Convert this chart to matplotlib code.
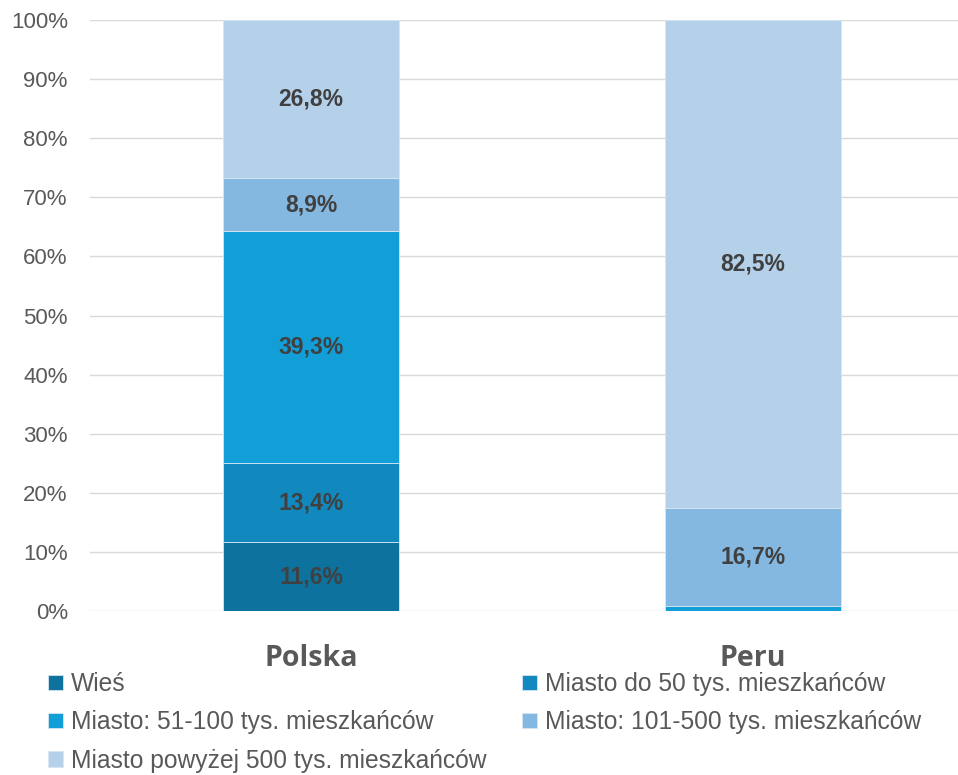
import matplotlib
matplotlib.use("Agg")
import matplotlib.pyplot as plt
from matplotlib.ticker import PercentFormatter
import numpy as np

countries = ["Polska", "Peru"]
series_names = [
    "Wieś",
    "Miasto do 50 tys. mieszkańców",
    "Miasto: 51-100 tys. mieszkańców",
    "Miasto: 101-500 tys. mieszkańców",
    "Miasto powyżej 500 tys. mieszkańców",
]
wies = [11.6, 0.0]
do_50 = [13.4, 0.0]
od_51_100 = [39.3, 0.8]
od_101_500 = [8.9, 16.7]
pow_500 = [26.8, 82.5]
series_values = [wies, do_50, od_51_100, od_101_500, pow_500]
colors = ["#0E729F", "#1189BE", "#129ED7", "#84B8E0", "#B5D1EA"]

fig = plt.figure(figsize=(9.58, 7.75), dpi=100)
ax = fig.add_axes([90 / 958, 164 / 775, 1 - 90 / 958, (611 - 20) / 775])

x = np.arange(len(countries))
bottom = np.zeros(len(countries))
handles = []
for name, vals, col in zip(series_names, series_values, colors):
    vals = np.array(vals)
    bars = ax.bar(x, vals, width=0.40, bottom=bottom, color=col,
                  edgecolor="#D6E6F3", linewidth=0.6, label=name, zorder=3)
    handles.append(bars)
    for xi, v, b in zip(x, vals, bottom):
        if v >= 2:
            ax.text(xi, b + v / 2, f"{v:.1f}%".replace(".", ","),
                    ha="center", va="center", fontsize=16.5,
                    fontweight="bold", color="#404040",
                    family="Liberation Sans", zorder=4)
    bottom = bottom + vals

ax.set_ylim(0, 100)
ax.set_xlim(-0.5, 1.464)
ax.set_yticks(np.arange(0, 101, 10))
ax.yaxis.set_major_formatter(PercentFormatter(decimals=0))
ax.grid(axis="y", color="#D9D9D9", linewidth=1.0, zorder=0)
for s in ax.spines.values():
    s.set_visible(False)
ax.tick_params(axis="y", length=0, labelsize=16, labelcolor="#595959", pad=16)
for lab in ax.get_yticklabels():
    lab.set_family("Liberation Sans")
ax.set_xticks(x)
ax.set_xticklabels(countries)
ax.tick_params(axis="x", length=0, pad=24)
for lab in ax.get_xticklabels():
    lab.set_family(["Open Sans", "DejaVu Sans"])
    lab.set_fontweight("bold")
    lab.set_fontsize(20.5)
    lab.set_color("#595959")

order = [0, 2, 4, 1, 3]
leg = fig.legend([handles[i] for i in order], [series_names[i] for i in order],
                 ncol=2, loc="upper left", bbox_to_anchor=(48 / 958, 1 - 672 / 775),
                 frameon=False, borderpad=0, borderaxespad=0,
                 handlelength=0.6, handleheight=0.6,
                 handletextpad=0.34, columnspacing=1.45, labelspacing=0.58,
                 prop={"family": ["Liberation Sans", "DejaVu Sans"], "size": 17.7},
                 labelcolor="#595959")

fig.savefig("out.png", dpi=100)
